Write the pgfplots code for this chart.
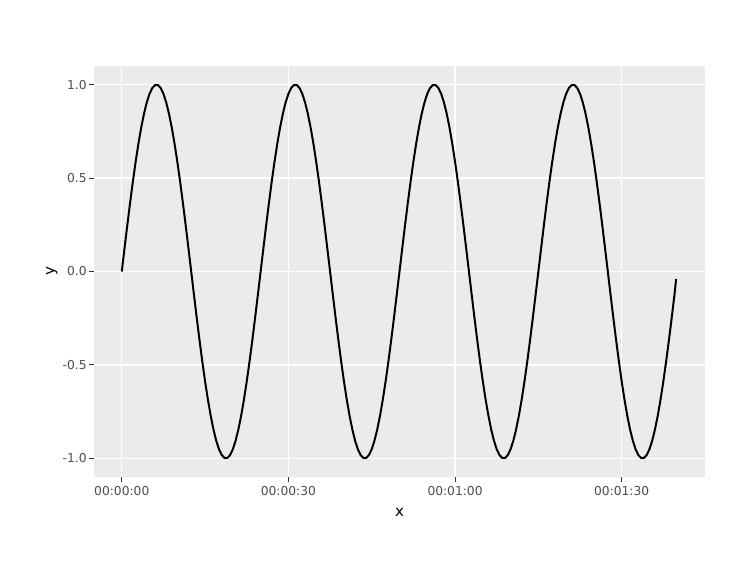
\documentclass[border=0pt]{standalone}
\usepackage{fontspec}
\setmainfont{DejaVu Sans}
\usepackage{pgfplots}
\pgfplotsset{compat=1.18}
\definecolor{panelbg}{HTML}{EBEBEB}
\definecolor{textgray}{HTML}{4D4D4D}
\definecolor{tickgray}{HTML}{333333}
\begin{document}
\begin{tikzpicture}
\path (-70.5pt,-62.25pt) rectangle (493.5pt,357.75pt);
\begin{axis}[
  scale only axis, width=458.25pt, height=308.25pt,
  at={(0pt,0pt)}, anchor=south west,
  xmin=-5, xmax=105, ymin=-1.0998, ymax=1.0998,
  axis background/.style={fill=panelbg},
  axis line style={draw=none},
  grid=major, major grid style={white, line width=1.05pt},
  xtick={0,30,60,90},
  xticklabels={00:00:00,00:00:30,00:01:00,00:01:30},
  ytick={-1,-0.5,0,0.5,1},
  yticklabels={-1.0,-0.5,0.0,0.5,1.0},
  tick align=outside, tick pos=left, major tick length=3.6pt,
  tick style={color=tickgray, line width=0.8pt},
  ticklabel style={font=\fontsize{9.2}{11}\selectfont, text=textgray},
  xticklabel style={inner sep=0pt, anchor=north, yshift=-3pt},
  yticklabel style={inner sep=0pt, anchor=east, xshift=-1.7pt},
  xlabel={x}, ylabel={y},
  label style={font=\fontsize{11.3}{13}\selectfont, text=black},
  xlabel style={at={(axis description cs:0.5,0)}, anchor=center, yshift=-26.5pt},
  ylabel style={at={(axis description cs:0,0.5)}, anchor=center, yshift=31.7pt},
  clip=false,
]
\addplot[black, line width=1.5pt, line join=round, mark=none] coordinates {
(0,0) (0.5,0.1253) (1,0.2487) (1.5,0.3681) (2,0.4818) (2.5,0.5878) (3,0.6845) (3.5,0.7705) (4,0.8443) (4.5,0.9048)
(5,0.9511) (5.5,0.9823) (6,0.9980) (6.5,0.9980) (7,0.9823) (7.5,0.9511) (8,0.9048) (8.5,0.8443) (9,0.7705) (9.5,0.6845)
(10,0.5878) (10.5,0.4818) (11,0.3681) (11.5,0.2487) (12,0.1253) (12.5,0) (13,-0.1253) (13.5,-0.2487) (14,-0.3681) (14.5,-0.4818)
(15,-0.5878) (15.5,-0.6845) (16,-0.7705) (16.5,-0.8443) (17,-0.9048) (17.5,-0.9511) (18,-0.9823) (18.5,-0.9980) (19,-0.9980) (19.5,-0.9823)
(20,-0.9511) (20.5,-0.9048) (21,-0.8443) (21.5,-0.7705) (22,-0.6845) (22.5,-0.5878) (23,-0.4818) (23.5,-0.3681) (24,-0.2487) (24.5,-0.1253)
(25,0) (25.5,0.1253) (26,0.2487) (26.5,0.3681) (27,0.4818) (27.5,0.5878) (28,0.6845) (28.5,0.7705) (29,0.8443) (29.5,0.9048)
(30,0.9511) (30.5,0.9823) (31,0.9980) (31.5,0.9980) (32,0.9823) (32.5,0.9511) (33,0.9048) (33.5,0.8443) (34,0.7705) (34.5,0.6845)
(35,0.5878) (35.5,0.4818) (36,0.3681) (36.5,0.2487) (37,0.1253) (37.5,0) (38,-0.1253) (38.5,-0.2487) (39,-0.3681) (39.5,-0.4818)
(40,-0.5878) (40.5,-0.6845) (41,-0.7705) (41.5,-0.8443) (42,-0.9048) (42.5,-0.9511) (43,-0.9823) (43.5,-0.9980) (44,-0.9980) (44.5,-0.9823)
(45,-0.9511) (45.5,-0.9048) (46,-0.8443) (46.5,-0.7705) (47,-0.6845) (47.5,-0.5878) (48,-0.4818) (48.5,-0.3681) (49,-0.2487) (49.5,-0.1253)
(50,0) (50.5,0.1253) (51,0.2487) (51.5,0.3681) (52,0.4818) (52.5,0.5878) (53,0.6845) (53.5,0.7705) (54,0.8443) (54.5,0.9048)
(55,0.9511) (55.5,0.9823) (56,0.9980) (56.5,0.9980) (57,0.9823) (57.5,0.9511) (58,0.9048) (58.5,0.8443) (59,0.7705) (59.5,0.6845)
(60,0.5878) (60.5,0.4818) (61,0.3681) (61.5,0.2487) (62,0.1253) (62.5,0) (63,-0.1253) (63.5,-0.2487) (64,-0.3681) (64.5,-0.4818)
(65,-0.5878) (65.5,-0.6845) (66,-0.7705) (66.5,-0.8443) (67,-0.9048) (67.5,-0.9511) (68,-0.9823) (68.5,-0.9980) (69,-0.9980) (69.5,-0.9823)
(70,-0.9511) (70.5,-0.9048) (71,-0.8443) (71.5,-0.7705) (72,-0.6845) (72.5,-0.5878) (73,-0.4818) (73.5,-0.3681) (74,-0.2487) (74.5,-0.1253)
(75,0) (75.5,0.1253) (76,0.2487) (76.5,0.3681) (77,0.4818) (77.5,0.5878) (78,0.6845) (78.5,0.7705) (79,0.8443) (79.5,0.9048)
(80,0.9511) (80.5,0.9823) (81,0.9980) (81.5,0.9980) (82,0.9823) (82.5,0.9511) (83,0.9048) (83.5,0.8443) (84,0.7705) (84.5,0.6845)
(85,0.5878) (85.5,0.4818) (86,0.3681) (86.5,0.2487) (87,0.1253) (87.5,0) (88,-0.1253) (88.5,-0.2487) (89,-0.3681) (89.5,-0.4818)
(90,-0.5878) (90.5,-0.6845) (91,-0.7705) (91.5,-0.8443) (92,-0.9048) (92.5,-0.9511) (93,-0.9823) (93.5,-0.9980) (94,-0.9980) (94.5,-0.9823)
(95,-0.9511) (95.5,-0.9048) (96,-0.8443) (96.5,-0.7705) (97,-0.6845) (97.5,-0.5878) (98,-0.4818) (98.5,-0.3681) (99,-0.2487) (99.5,-0.1253)
(99.8,-0.0400)
};
\end{axis}
\end{tikzpicture}
\end{document}
